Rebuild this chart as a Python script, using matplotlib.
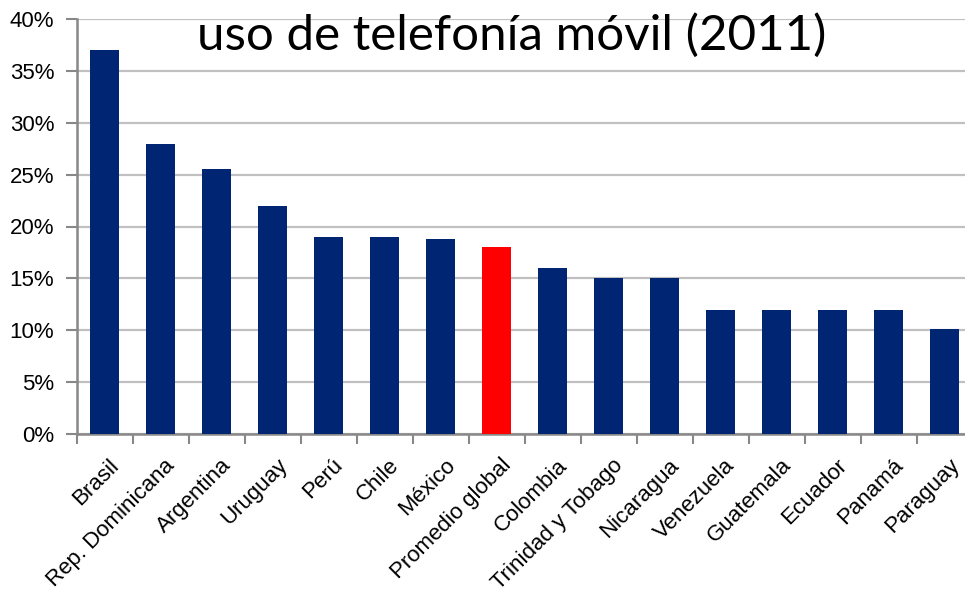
import numpy as np
import matplotlib.pyplot as plt
import matplotlib.transforms as mtransforms
from matplotlib.ticker import FuncFormatter, MultipleLocator

# uso de telefonia movil por pais, 2011 (porcentaje)
paises = ['Brasil', 'Rep. Dominicana', 'Argentina', 'Uruguay', 'Perú', 'Chile',
          'México', 'Promedio global', 'Colombia', 'Trinidad y Tobago',
          'Nicaragua', 'Venezuela', 'Guatemala', 'Ecuador', 'Panamá', 'Paraguay']
valores = [37, 28, 25.5, 22, 19, 19, 18.8, 18, 16, 15, 15, 12, 12, 12, 12, 10.1]
destacado = 'Promedio global'

azul = '#002673'
rojo = '#ff0000'
colores = [rojo if p == destacado else azul for p in paises]

plt.rcParams['font.family'] = ['Liberation Sans', 'DejaVu Sans']

fig = plt.figure(figsize=(9.65, 5.93), dpi=100)
ax = fig.add_axes([76.5/965, 1 - 434/593, (972.5 - 76.5)/965, 415/593])

x = np.arange(len(paises))
ax.bar(x, valores, width=0.52, color=colores, zorder=3)

ax.set_xlim(-0.5, len(paises) - 0.5)
ax.set_ylim(0, 40)
ax.yaxis.set_major_locator(MultipleLocator(5))
ax.yaxis.set_major_formatter(FuncFormatter(lambda v, pos: '%d%%' % v))
ax.grid(axis='y', color='#c0c0c0', linewidth=1.6, zorder=0)
ax.set_axisbelow(True)

# ticks between categories, labels at the centres
ax.set_xticks(np.arange(len(paises) + 1) - 0.5)
ax.set_xticklabels([])
ax.set_xticks(x, minor=True)
ax.set_xticklabels(paises, minor=True, rotation=45, ha='right',
                   rotation_mode='anchor', fontsize=16)
ax.tick_params(axis='x', which='minor', length=0, pad=15)
ax.tick_params(axis='x', which='major', length=7, color='#888888', width=1.5)
ax.tick_params(axis='y', length=8, color='#888888', width=1.5, labelsize=16, pad=8)

shift = mtransforms.ScaledTranslation(4/100, 0, fig.dpi_scale_trans)
for lab in ax.get_xticklabels(minor=True):
    lab.set_transform(lab.get_transform() + shift)

for s in ['top', 'right']:
    ax.spines[s].set_visible(False)
for s in ['left', 'bottom']:
    ax.spines[s].set_color('#888888')
    ax.spines[s].set_linewidth(1.8)

ax.text(0.4855, 0.925, 'uso de telefonía móvil (2011)', transform=ax.transAxes,
        ha='center', va='baseline', fontsize=35.5, family=['Lato', 'DejaVu Sans'],
        zorder=5)

fig.savefig('out.png', dpi=100)
